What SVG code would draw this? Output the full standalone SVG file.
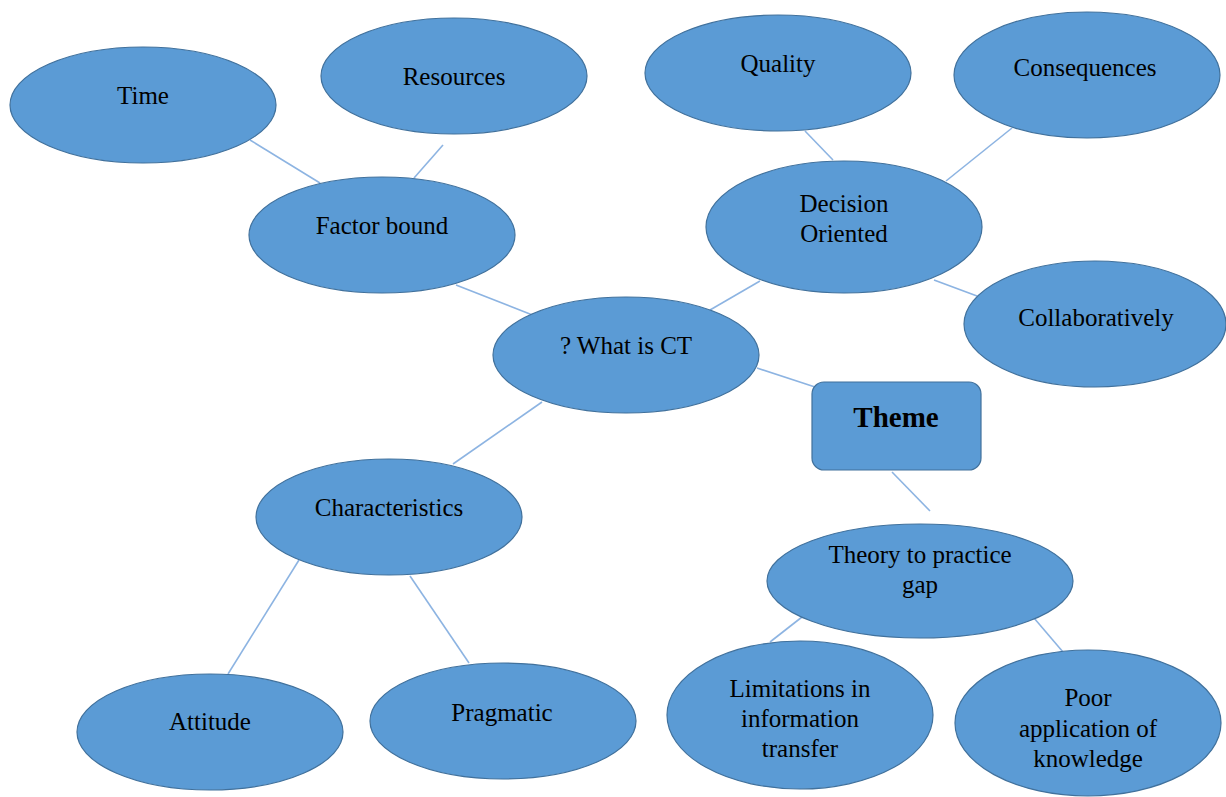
<svg xmlns="http://www.w3.org/2000/svg" width="1226" height="797" viewBox="0 0 1226 797">
<style>
.n{fill:#5B9BD5;stroke:#41719C;stroke-width:1.2}
.c line{stroke:#8DB4E2;stroke-width:1.6}
text{font-family:"Liberation Serif","Times New Roman",serif;font-size:25px;fill:#000;text-anchor:middle;dominant-baseline:central}
.b{font-weight:bold;font-size:29px}
</style>
<rect width="1226" height="797" fill="#fff"/>
<g class="c" id="connectors">
<line x1="250" y1="140" x2="320" y2="183"/>
<line x1="443" y1="145" x2="414" y2="178"/>
<line x1="456" y1="285" x2="535" y2="316"/>
<line x1="710" y1="310" x2="760" y2="281"/>
<line x1="805" y1="131" x2="833" y2="160"/>
<line x1="1012" y1="128" x2="946" y2="181"/>
<line x1="934" y1="280" x2="977" y2="296"/>
<line x1="757" y1="368" x2="815" y2="387"/>
<line x1="542" y1="402" x2="453" y2="464"/>
<line x1="892" y1="472" x2="930" y2="511"/>
<line x1="299" y1="560" x2="228" y2="674"/>
<line x1="410" y1="576" x2="469" y2="663"/>
<line x1="802" y1="617" x2="770" y2="642"/>
<line x1="1034" y1="618" x2="1063" y2="652"/>
</g>
<g id="time"><ellipse class="n" cx="143" cy="105" rx="133" ry="58"/><text x="143" y="95">Time</text></g>
<g id="resources"><ellipse class="n" cx="454" cy="76" rx="133" ry="58"/><text x="454" y="76">Resources</text></g>
<g id="factor"><ellipse class="n" cx="382" cy="235" rx="133" ry="58"/><text x="382" y="225">Factor bound</text></g>
<g id="quality"><ellipse class="n" cx="778" cy="73" rx="133" ry="58"/><text x="778" y="63">Quality</text></g>
<g id="consequences"><ellipse class="n" cx="1087" cy="75" rx="133" ry="63"/><text x="1085" y="67">Consequences</text></g>
<g id="decision"><ellipse class="n" cx="844" cy="227" rx="138" ry="66"/><text x="844" y="203">Decision</text><text x="844" y="233">Oriented</text></g>
<g id="collab"><ellipse class="n" cx="1095" cy="324" rx="131" ry="63"/><text x="1096" y="317">Collaboratively</text></g>
<g id="ct"><ellipse class="n" cx="626" cy="355" rx="133" ry="58"/><text x="626" y="345">? What is CT</text></g>
<g id="theme"><rect class="n" x="812" y="382" width="169" height="88" rx="12"/><text class="b" x="896" y="417">Theme</text></g>
<g id="characteristics"><ellipse class="n" cx="389" cy="517" rx="133" ry="58"/><text x="389" y="507">Characteristics</text></g>
<g id="theory"><ellipse class="n" cx="920" cy="581" rx="153" ry="57"/><text x="920" y="554">Theory to practice</text><text x="920" y="584">gap</text></g>
<g id="attitude"><ellipse class="n" cx="210" cy="732" rx="133" ry="58"/><text x="210" y="721">Attitude</text></g>
<g id="pragmatic"><ellipse class="n" cx="503" cy="721" rx="133" ry="58"/><text x="502" y="712">Pragmatic</text></g>
<g id="limitations"><ellipse class="n" cx="800" cy="715" rx="133" ry="74"/><text x="800" y="688">Limitations in</text><text x="800" y="718">information</text><text x="800" y="748">transfer</text></g>
<g id="poor"><ellipse class="n" cx="1088" cy="723" rx="133" ry="73"/><text x="1088" y="697">Poor</text><text x="1088" y="728">application of</text><text x="1088" y="758">knowledge</text></g>
</svg>
